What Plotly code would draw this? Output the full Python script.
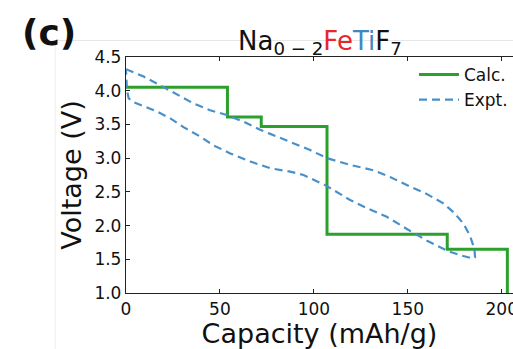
import plotly.graph_objects as go

# Calculated voltage steps
calc_cap = [0, 54, 54, 72, 72, 107, 107, 171, 171, 203, 203]
calc_v = [4.05, 4.05, 3.61, 3.61, 3.47, 3.47, 1.87, 1.87, 1.65, 1.65, 1.0]

# Experimental loop (charge then discharge)
expt_cap = [0, 9.4, 18.2, 27.1, 36, 44.8, 53.7, 62.6, 71.4, 76.8, 87.4, 98, 106.9,
            119.3, 131.7, 140.6, 149.5, 160, 168.9, 174.3, 179.6, 183.1, 185.5, 185.8,
            184.9, 177.8, 170.7, 160, 149.5, 138.8, 128.2, 119.3, 106, 101.6, 94.5,
            87.4, 76.8, 66.1, 55.5, 46.6, 39.5, 30.6, 23.6, 16.5, 7.6, 3.2, 1.4, 0.5, 0]
expt_v = [4.32, 4.21, 4.08, 3.94, 3.81, 3.71, 3.64, 3.54, 3.42, 3.36, 3.24, 3.12, 3.0,
          2.9, 2.82, 2.72, 2.6, 2.47, 2.33, 2.2, 2.03, 1.85, 1.65, 1.53,
          1.51, 1.56, 1.63, 1.78, 1.95, 2.13, 2.26, 2.38, 2.6, 2.66, 2.75,
          2.8, 2.85, 2.95, 3.07, 3.19, 3.32, 3.46, 3.59, 3.69, 3.79, 3.84, 3.89, 4.01, 4.3]

x_ticks = [0, 50, 100, 150, 200]
y_ticks = [1.0, 1.5, 2.0, 2.5, 3.0, 3.5, 4.0, 4.5]

GREEN = "#2ca02c"
BLUE = "#4a90c8"
FONT = "DejaVu Sans"

fig = go.Figure()
fig.add_trace(go.Scatter(x=calc_cap, y=calc_v, mode="lines", name="Calc.",
                         line=dict(color=GREEN, width=3)))
fig.add_trace(go.Scatter(x=expt_cap, y=expt_v, mode="lines", name="Expt.",
                         line=dict(color=BLUE, width=2.2, dash="8px,5px")))

fig.update_layout(
    width=513, height=349,
    margin=dict(l=126, r=0, t=57, b=56),
    paper_bgcolor="white", plot_bgcolor="white",
    font=dict(family=FONT, size=17, color="#111"),
    showlegend=True,
    legend=dict(x=1.0, y=1.0, xanchor="right", yanchor="top",
                bgcolor="rgba(0,0,0,0)", font=dict(size=17, family=FONT),
                tracegroupgap=0, itemwidth=40),
    xaxis=dict(range=[0, 206], tickvals=x_ticks, ticktext=[str(v) for v in x_ticks],
               automargin=False,
               ticks="inside", ticklen=4, tickcolor="#222", showgrid=False,
               zeroline=False, showline=True, linecolor="#222", linewidth=1.3,
               mirror="ticks", tickfont=dict(size=17, family=FONT),
               ticklabeloverflow="allow",
               title=dict(text="Capacity (mAh/g)", font=dict(size=27, family=FONT), standoff=2)),
    yaxis=dict(range=[1.0, 4.5], tickvals=y_ticks, ticktext=[f"{v:.1f}" for v in y_ticks],
               automargin=False,
               ticks="inside", ticklen=4, tickcolor="#222", showgrid=False,
               zeroline=False, showline=True, linecolor="#222", linewidth=1.3,
               tickfont=dict(size=17, family=FONT), ticklabeloverflow="allow",
               title=dict(text="Voltage (V)", font=dict(size=27, family=FONT), standoff=4)),
)

fig.add_annotation(
    text="Na<sub>0 \u2212 2</sub><span style='color:#e8262b'>Fe</span>"
         "<span style='color:#3f86c4'>Ti</span>F<sub>7</sub>",
    xref="paper", yref="paper", x=0.5, y=1.0, xanchor="center", yanchor="bottom",
    showarrow=False, font=dict(size=26, family=FONT, color="#111"), yshift=-4)

fig.add_annotation(text="<b>(c)</b>", xref="paper", yref="paper", x=-0.2, y=1.102,
                   xanchor="center", yanchor="middle", showarrow=False,
                   font=dict(size=36, family=FONT, color="#111"))

# faint crop-border lines from the source figure
fig.add_shape(type="line", xref="paper", yref="paper", x0=-0.183, x1=1.0, y0=1.07, y1=1.07,
              line=dict(color="#e6e6e6", width=1))
fig.add_shape(type="line", xref="paper", yref="paper", x0=-0.183, x1=-0.183, y0=1.07, y1=-0.24,
              line=dict(color="#eeeeee", width=1))

fig.write_html("out.html")
